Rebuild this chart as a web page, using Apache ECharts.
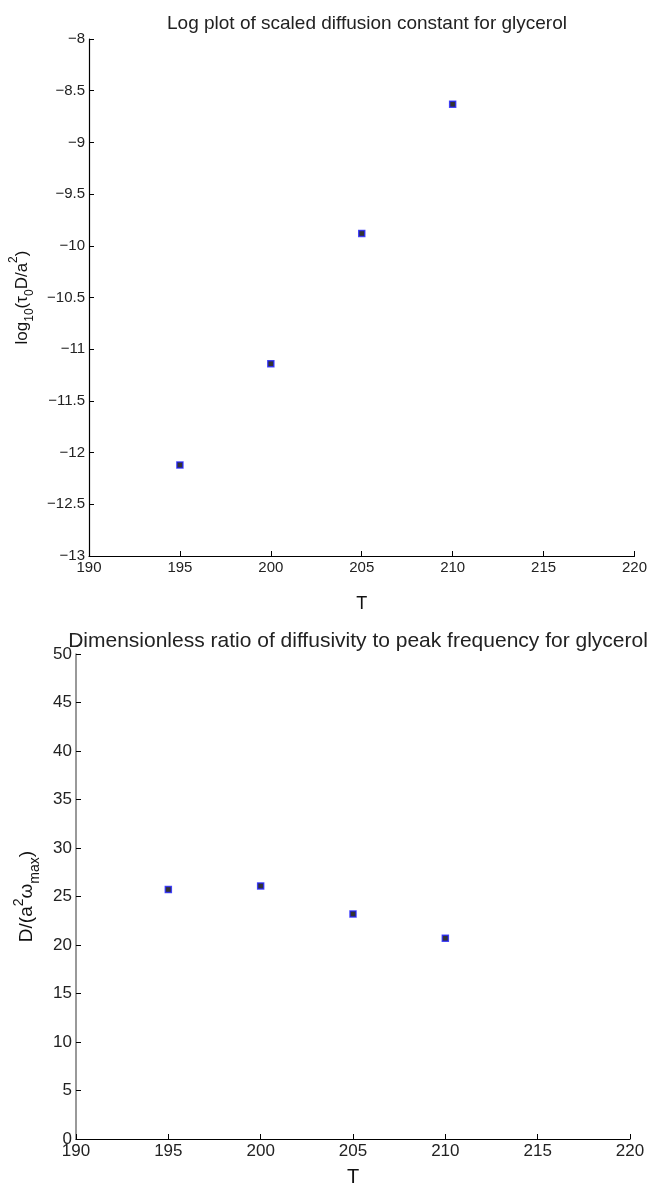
<!DOCTYPE html>
<html>
<head>
<meta charset="utf-8">
<script src="https://cdn.jsdelivr.net/npm/echarts@6/dist/echarts.min.js"></script>
<style>
  html, body { margin: 0; padding: 0; background: #fff; }
  #chart { width: 650px; height: 1188px; }
</style>
</head>
<body>
<div id="chart"></div>
<script>
  // temperatures (K)
  const temps = [195, 200, 205, 210];
  // log10(tau0 D / a^2)
  const logScaledD = [-12.12, -11.14, -9.88, -8.63];
  // D / (a^2 omega_max)
  const ratio = [25.72, 26.09, 23.2, 20.7];

  const xTicks = [190, 195, 200, 205, 210, 215, 220];

  const font = 'Liberation Sans, Arial, Helvetica, sans-serif';
  const minus = v => String(v).replace('-', '\u2212');

  const chart = echarts.init(document.getElementById('chart'));

  const marker = {
    symbol: 'rect',
    symbolSize: 6,
    itemStyle: { color: '#000', borderColor: '#2020ff', borderWidth: 1.5 },
  };

  function xAxis(gridIndex, fs, gap) {
    return {
      gridIndex,
      type: 'value',
      min: xTicks[0],
      max: xTicks[xTicks.length - 1],
      interval: 5,
      name: 'T',
      nameLocation: 'middle',
      nameGap: gap,
      nameTextStyle: { fontFamily: font, fontSize: fs + 3, color: '#111' },
      axisLine: { show: true, onZero: false, lineStyle: { color: '#000', width: 1.2 } },
      axisTick: { show: true, inside: true, length: 5, lineStyle: { color: '#000' } },
      axisLabel: { fontFamily: font, fontSize: fs, color: '#222', margin: 4 },
      splitLine: { show: false },
    };
  }

  chart.setOption({
    animation: false,
    backgroundColor: '#fff',
    title: [
      {
        text: 'Log plot of scaled diffusion constant for glycerol',
        left: 362, top: 9, textAlign: 'center',
        textStyle: { fontFamily: font, fontSize: 19, fontWeight: 'normal', color: '#222' },
      },
      {
        text: 'Dimensionless ratio of diffusivity to peak frequency for glycerol',
        left: 353, top: 626, textAlign: 'center',
        textStyle: { fontFamily: font, fontSize: 21, fontWeight: 'normal', color: '#222' },
      },
    ],
    grid: [
      { left: 89, top: 39, width: 547, height: 517 },
      { left: 76, top: 654, width: 554, height: 497 },
    ],
    xAxis: [xAxis(0, 15, 39), xAxis(1, 17, 28)],
    yAxis: [
      {
        gridIndex: 0,
        type: 'value',
        min: -13,
        max: -8,
        interval: 0.5,
        name: '{n|log}{s|10}{n|(τ}{s|0}{n|D/a}{p|2}{n|)}',
        nameLocation: 'middle',
        nameGap: 50,
        nameTextStyle: {
          fontFamily: font, color: '#111',
          rich: {
            n: { fontFamily: font, fontSize: 17, lineHeight: 28, verticalAlign: 'middle', color: '#111' },
            s: { fontFamily: font, fontSize: 12, lineHeight: 28, verticalAlign: 'bottom', color: '#111' },
            p: { fontFamily: font, fontSize: 12, lineHeight: 28, verticalAlign: 'top', color: '#111' },
          },
        },
        axisLine: { show: true, onZero: false, lineStyle: { color: '#000', width: 1.2 } },
        axisTick: { show: true, inside: true, length: 5, lineStyle: { color: '#000' } },
        axisLabel: { fontFamily: font, fontSize: 15, color: '#222', margin: 4, formatter: minus },
        splitLine: { show: false },
      },
      {
        gridIndex: 1,
        type: 'value',
        min: 0,
        max: 50,
        interval: 5,
        name: '{n|D/(a}{p|2}{n|ω}{s|max}{n|)}',
        nameLocation: 'middle',
        nameGap: 33,
        nameTextStyle: {
          fontFamily: font, color: '#111',
          rich: {
            n: { fontFamily: font, fontSize: 19, lineHeight: 30, verticalAlign: 'middle', color: '#111' },
            s: { fontFamily: font, fontSize: 14, lineHeight: 30, verticalAlign: 'bottom', color: '#111' },
            p: { fontFamily: font, fontSize: 14, lineHeight: 30, verticalAlign: 'top', color: '#111' },
          },
        },
        axisLine: { show: true, onZero: false, lineStyle: { color: '#777', width: 1.5 } },
        axisTick: { show: true, inside: true, length: 5, lineStyle: { color: '#000' } },
        axisLabel: { fontFamily: font, fontSize: 17, color: '#222', margin: 4 },
        splitLine: { show: false },
      },
    ],
    series: [
      Object.assign({
        type: 'scatter', xAxisIndex: 0, yAxisIndex: 0,
        data: temps.map((t, i) => [t, logScaledD[i]]),
      }, marker),
      Object.assign({
        type: 'scatter', xAxisIndex: 1, yAxisIndex: 1,
        data: temps.map((t, i) => [t, ratio[i]]),
      }, marker),
    ],
  });
</script>
</body>
</html>
